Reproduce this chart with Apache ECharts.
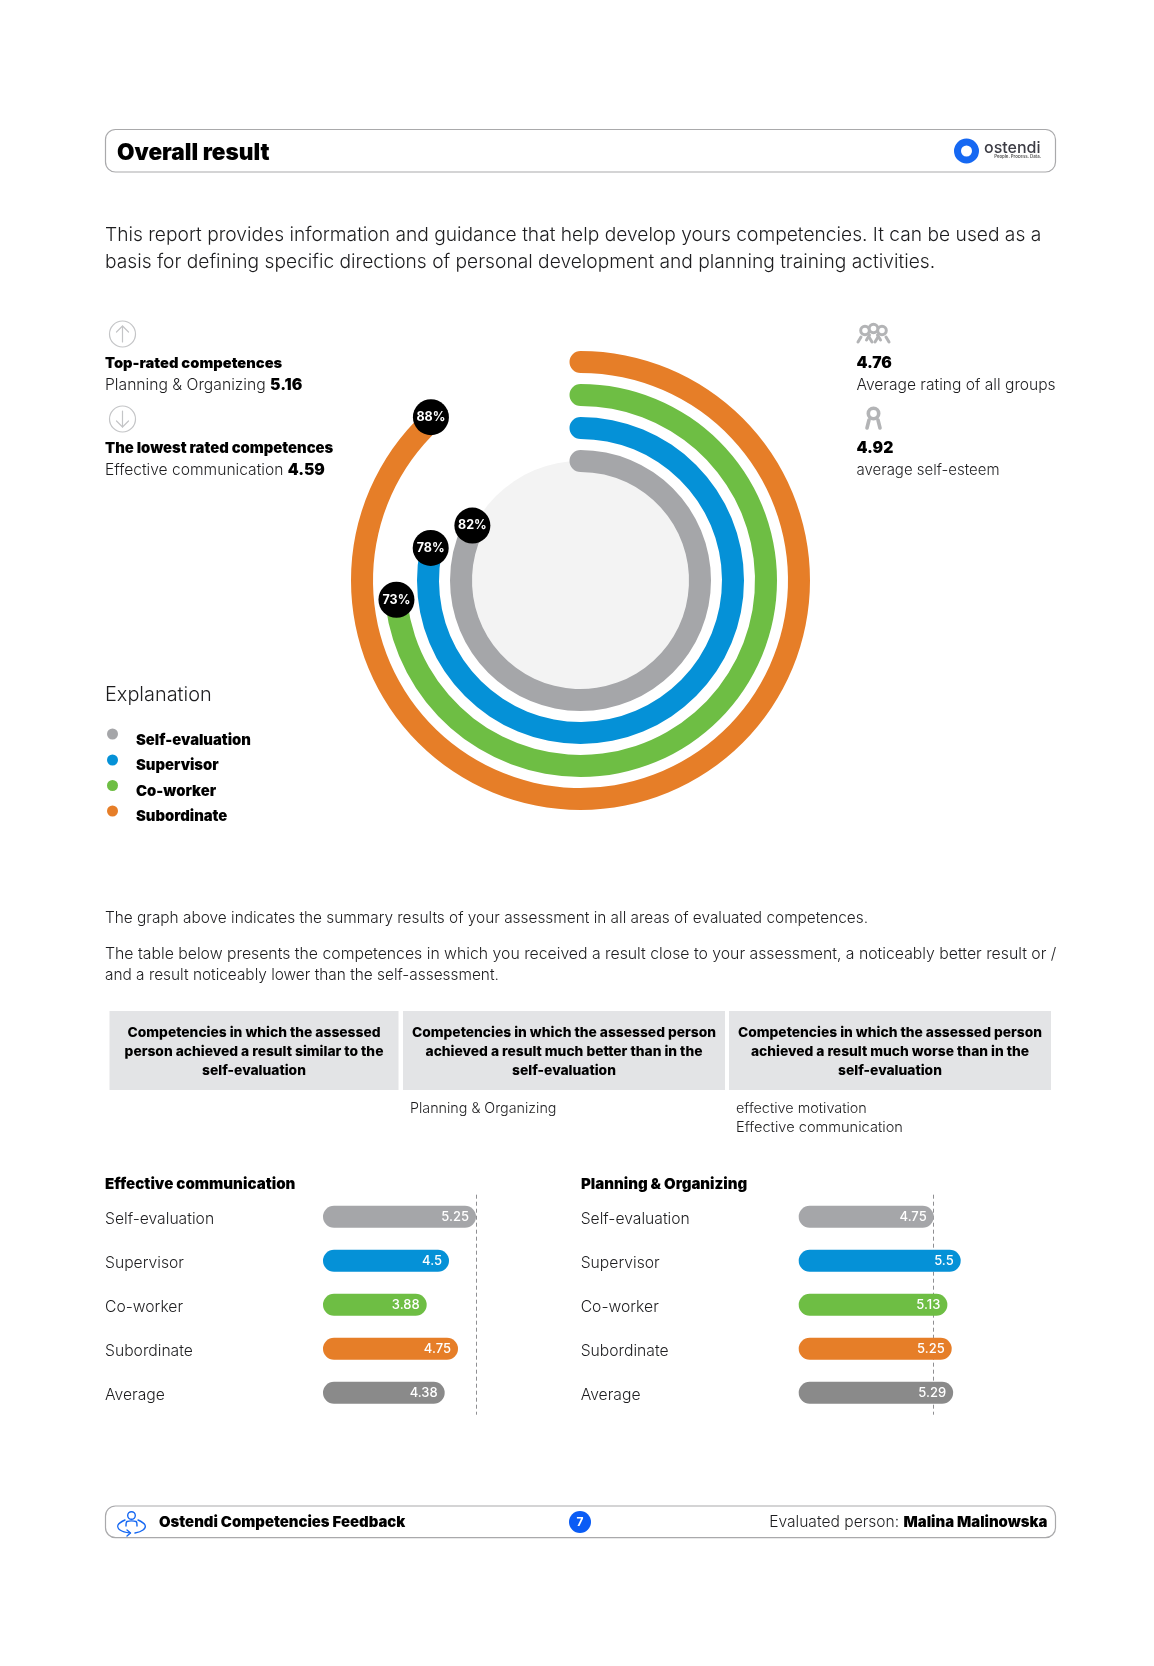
<!DOCTYPE html>
<html><head><meta charset="utf-8">
<style>html,body{margin:0;padding:0;background:#fff}#c{width:1154px;height:1666px}</style>
<script src="https://cdn.jsdelivr.net/npm/echarts@6/dist/echarts.min.js"></script>
</head><body><div id="c"></div>
<script>
const groups = ['Self-evaluation','Supervisor','Co-worker','Subordinate'];
const ringPercent = [82,78,73,88];
const groupColors = ['#a5a6a9','#0591d7','#6ebe44','#e67e28'];
const barCategories = ['Self-evaluation','Supervisor','Co-worker','Subordinate','Average'];
const barColors = ['#a5a6a9','#0591d7','#6ebe44','#e67e28','#8a8a8a'];
const communicationValues = [5.25,4.5,3.88,4.75,4.38];
const planningValues = [4.75,5.5,5.13,5.25,5.29];
const FONT='Inter', HEAVY='Inter', INK='#1d1d1f', RW=300, BW=900;

const chart = echarts.init(document.getElementById('c'),null,{renderer:'canvas'});
const g=[];
function T(x,y,text,size,weight,o){o=o||{};g.push({type:'text',x:x,y:y,z:o.z||10,style:Object.assign({text:text,fontFamily:o.family||FONT,fontSize:size,fontWeight:weight||RW,fill:o.fill||INK,align:o.align||'left',verticalAlign:'middle'},o.style||{})});}
function mixed(x,y,a,b,size,o){o=o||{};g.push({type:'text',x:x,y:y,z:10,style:{text:'{a|'+a+'}{b|'+b+'}',align:o.align||'left',verticalAlign:'middle',rich:{a:{fontFamily:FONT,fontSize:size,fill:INK,fontWeight:RW},b:{fontFamily:HEAVY,fontSize:o.bsize||size,fill:'#000',fontWeight:BW}}}});}
function box(x,y,w,h,r,fill,stroke,lw){g.push({type:'rect',shape:{x:x,y:y,width:w,height:h,r:r},z:1,style:{fill:fill,stroke:stroke||null,lineWidth:lw||0}});}
function circ(cx,cy,r,fill,stroke,lw,z){g.push({type:'circle',shape:{cx:cx,cy:cy,r:r},z:z||5,style:{fill:fill||'none',stroke:stroke||null,lineWidth:lw||0}});}
function poly(points,stroke,lw,smooth){g.push({type:'polyline',shape:{points:points,smooth:smooth||0},z:6,style:{fill:'none',stroke:stroke,lineWidth:lw,lineCap:'round',lineJoin:'round'}});}

// header
box(105.5,129.5,950,42.5,10,'#fff','#a9a9ab',1.2);
T(117,153.5,'Overall result',22.6,BW,{fill:'#000'});
circ(966.5,151,9,'none','#1668f2',7);
T(984,148.5,'ostendi',16,500,{fill:'#3c3c44'});
T(1041,156.5,'People. Process. Data.',4.3,600,{align:'right',fill:'#555'});

// intro
T(105,235,'This report provides information and guidance that help develop yours competencies. It can be used as a',19.2);
T(105,262,'basis for defining specific directions of personal development and planning training activities.',19.2);

// side stats
const icon='#c4c5c7';
circ(122.5,334,13,'#fff',icon,1.2); poly([[122.5,342],[122.5,326]],icon,1.2); poly([[116.5,332],[122.5,326],[128.5,332]],icon,1.2);
circ(122.5,419,13,'#fff',icon,1.2); poly([[122.5,411],[122.5,427]],icon,1.2); poly([[116.5,421],[122.5,427],[128.5,421]],icon,1.2);
T(105,363.5,'Top-rated competences',14.7,BW,{fill:'#000'});
mixed(105,385.7,'Planning & Organizing ','5.16',15.7);
T(105,448.5,'The lowest rated competences',14.8,BW,{fill:'#000'});
mixed(105,470.5,'Effective communication ','4.59',15.6);

const iconDk='#b3b4b6';
[[865,333],[882,333],[873.5,331]].forEach(p=>{circ(p[0],p[1]-2.5,4.3,'#fff',iconDk,3,p[0]==873.5?7:6);poly([[p[0]-4,p[1]+4],[p[0]-7,p[1]+9]],iconDk,3);poly([[p[0]+4,p[1]+4],[p[0]+7,p[1]+9]],iconDk,3);});
T(856.5,363.5,'4.76',15.7,BW,{fill:'#000'});
T(856.5,385.7,'Average rating of all groups',15.6);
circ(873.5,413.5,5.2,'#fff',iconDk,3.6,6); poly([[869,420],[867,428]],iconDk,3.6); poly([[878,420],[880,428]],iconDk,3.6);
T(856.5,448.5,'4.92',15.7,BW,{fill:'#000'});
T(856.5,470.5,'average self-esteem',15);

// legend
T(105,695,'Explanation',19.9);
groups.forEach((n,i)=>{const dy=[734,760,785.5,811][i];circ(112.5,dy,5.5,groupColors[i]);T(136,dy+[6.5,6,6,6][i],n,14.8,BW,{fill:'#000'});});

// paragraphs
T(105,918.5,'The graph above indicates the summary results of your assessment in all areas of evaluated competences.',15.4);
T(105,954,'The table below presents the competences in which you received a result close to your assessment, a noticeably better result or /',15.8);
T(105,975.5,'and a result noticeably lower than the self-assessment.',15.4);

// table
const headCols=[
 {x:109.5,w:289,lines:['Competencies in which the assessed','person achieved a result similar to the','self-evaluation']},
 {x:403,w:322,lines:['Competencies in which the assessed person','achieved a result much better than in the','self-evaluation']},
 {x:729,w:322,lines:['Competencies in which the assessed person','achieved a result much worse than in the','self-evaluation']}];
headCols.forEach(c=>{box(c.x,1011,c.w,79,0,'#e3e4e6');c.lines.forEach((l,i)=>T(c.x+c.w/2,[1033,1052,1070.7][i],l,13.8,800,{align:'center',fill:'#000'}));});
T(410,1109,'Planning & Organizing',14.3);
T(736,1109,'effective motivation',14.4);
T(736,1127.7,'Effective communication',14.6);

// footer
box(105.5,1506,950,31.7,10,'#fff','#a9a9ab',1.2);
const fb='#1668f2';
circ(131.5,1515.5,3.8,'none',fb,1.4,6);
poly([[126,1526],[127,1521.5],[136,1521.5],[137,1526]],fb,1.4,0.3);
poly([[125,1520],[118,1525],[120,1530],[130,1533]],fb,1.4,0.4);
poly([[138,1520],[145,1525],[143,1530],[135,1533]],fb,1.4,0.4);
poly([[127,1530],[130.5,1533],[127,1536]],fb,1.4);
T(159,1522.5,'Ostendi Competencies Feedback',14.9,BW,{fill:'#000'});
circ(580,1522,11,'#0a5cf5');
T(580,1522,'7',12,700,{fill:'#fff',align:'center'});
mixed(1047.5,1522.5,'Evaluated person: ','Malina Malinowska',15.6,{align:'right',bsize:14.9});

// inner disc of the radial chart
g.push({type:'circle',shape:{cx:580.5,cy:580.5,r:119.5},z:-1,style:{fill:'#f3f3f3'}});

function panel(idx,values){
 return {
  type:'bar',xAxisIndex:idx,yAxisIndex:idx,data:values,barWidth:22,z:3,
  itemStyle:{color:p=>barColors[p.dataIndex],borderRadius:11},
  label:{show:true,position:'insideRight',distance:7,color:'#fff',fontFamily:'Inter',fontSize:13,fontWeight:500},
  markLine:{silent:true,symbol:'none',z:1,label:{show:false},lineStyle:{color:'#8f8f92',type:[4,3],width:1},data:[{xAxis:values[0]}]}
 };
}
const yAxisBase=(m)=>({type:'category',inverse:true,data:barCategories,gridIndex:m,axisLine:{show:false},axisTick:{show:false},
 axisLabel:{align:'left',margin:218,fontFamily:FONT,fontSize:15.7,fontWeight:RW,color:INK,verticalAlign:'top',lineHeight:6}});

chart.setOption({
 animation:false,
 backgroundColor:'#fff',
 title:[
  {text:'Effective communication',left:105,top:1177,textStyle:{fontFamily:HEAVY,fontSize:15.1,fontWeight:BW,color:'#000'},padding:0},
  {text:'Planning & Organizing',left:581,top:1176.5,textStyle:{fontFamily:HEAVY,fontSize:15,fontWeight:BW,color:'#000'},padding:0}
 ],
 polar:{center:[580.5,580.5],radius:[103,235]},
 angleAxis:{type:'value',min:0,max:100,startAngle:90,clockwise:true,show:false},
 radiusAxis:{type:'category',data:groups,show:false},
 grid:[
  {left:323,top:1194.7,width:180,height:220},
  {left:798.7,top:1194.7,width:180,height:220}
 ],
 xAxis:[{type:'value',gridIndex:0,min:1,max:6,show:false},{type:'value',gridIndex:1,min:1,max:6,show:false}],
 yAxis:[yAxisBase(0),yAxisBase(1)],
 series:[
  {type:'bar',coordinateSystem:'polar',data:ringPercent,barWidth:22,roundCap:true,z:2,
   itemStyle:{color:p=>groupColors[p.dataIndex]}},
  {type:'scatter',coordinateSystem:'polar',z:4,symbol:'circle',symbolSize:36,symbolOffset:[0,-4],
   data:ringPercent.map((v,i)=>[i,v]),itemStyle:{color:'#000',opacity:1},
   label:{show:true,position:'inside',formatter:p=>p.value[1]+'%',color:'#fff',fontFamily:'Inter',fontWeight:700,fontSize:12.5}},
  panel(0,communicationValues),
  panel(1,planningValues)
 ],
 graphic:g
});
</script></body></html>
